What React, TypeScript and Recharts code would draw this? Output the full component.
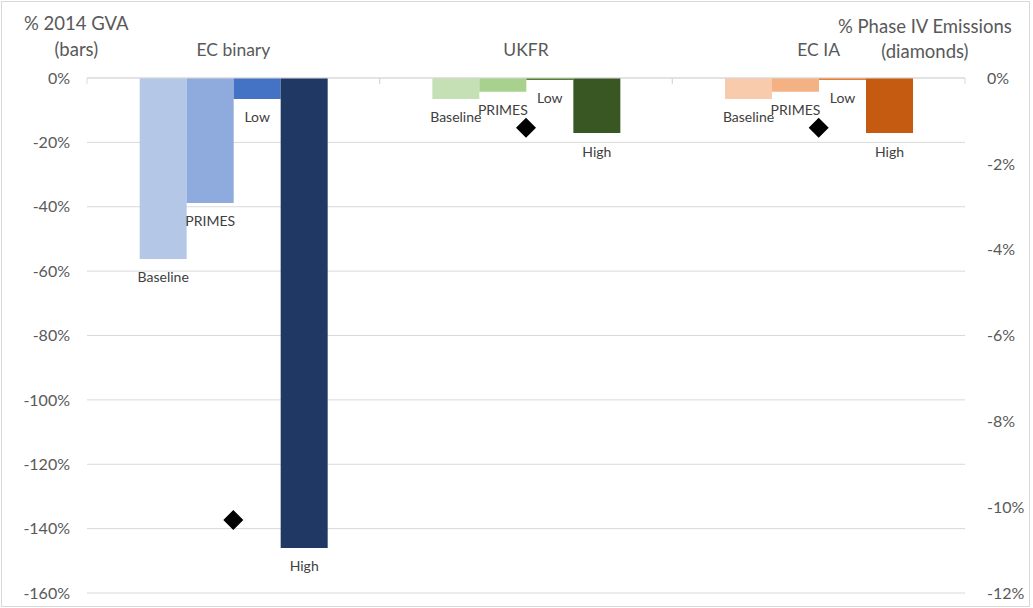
import React from "react";
import {
  ComposedChart,
  Bar,
  Line,
  Cell,
  XAxis,
  YAxis,
  CartesianGrid,
  LabelList,
} from "recharts";

const categories = ["EC binary", "UKFR", "EC IA"];
const baseline = [-56.2, -6.5, -6.5];
const primes = [-38.8, -4.3, -4.3];
const low = [-6.5, -0.6, -0.6];
const high = [-146, -17.1, -17.1];
const emissions = [-10.3, -1.16, -1.16];

const leftTicks = [0, -20, -40, -60, -80, -100, -120, -140, -160];
const rightTicks = [0, -2, -4, -6, -8, -10, -12];

const baselineColors = ["#b4c7e7", "#c5e0b4", "#f8cbad"];
const primesColors = ["#8faadc", "#a9d18e", "#f4b183"];
const lowColors = ["#4472c4", "#548235", "#ed7d31"];
const highColors = ["#203864", "#385723", "#c55a11"];

const data = categories.map((name, i) => ({
  name,
  Baseline: baseline[i],
  PRIMES: primes[i],
  Low: low[i],
  High: high[i],
  emissions: emissions[i],
}));

const FONT = "Lato, 'Liberation Sans', sans-serif";
const GREY = "#595959";

const GroupTick = (props: any) => {
  const { x, y, payload } = props;
  const band = (props.width || 878) / categories.length;
  const axisY = y + 8;
  return (
    <g>
      <text
        x={x}
        y={y - 21}
        textAnchor="middle"
        dominantBaseline="central"
        fill={GREY}
        fontSize={17.5}
        fontFamily={FONT}
      >
        {payload.value}
      </text>
      <line x1={x - band / 2} y1={axisY} x2={x - band / 2} y2={axisY + 6} stroke="#d9d9d9" />
      <line x1={x + band / 2} y1={axisY} x2={x + band / 2} y2={axisY + 6} stroke="#d9d9d9" />
    </g>
  );
};

const BarName = (name: string) => (props: any) => {
  const { x, y, width, height } = props;
  const bottom = Math.max(y, y + height);
  return (
    <text
      x={x + width / 2}
      y={bottom + 18}
      textAnchor="middle"
      dominantBaseline="central"
      fill="#404040"
      fontSize={14}
      fontFamily={FONT}
    >
      {name}
    </text>
  );
};

const Diamond = (props: any) => {
  const { cx, cy } = props;
  const r = 10;
  return (
    <path
      d={`M${cx},${cy - r} L${cx + r},${cy} L${cx},${cy + r} L${cx - r},${cy} Z`}
      fill="#000"
    />
  );
};

const pct = (v: number) => `${v}%`;

export default function App() {
  return (
    <div
      style={{
        position: "fixed",
        top: 0,
        left: 0,
        width: 1033,
        height: 608,
        background: "#fff",
        fontFamily: FONT,
      }}
    >
      <div
        style={{
          position: "absolute",
          left: 1,
          top: 1,
          width: 1027,
          height: 604,
          border: "1px solid #d9d9d9",
        }}
      />
      <div
        style={{
          position: "absolute",
          left: 24,
          top: 10,
          color: GREY,
          fontSize: 18.5,
          lineHeight: "26px",
          textAlign: "center",
        }}
      >
        % 2014 GVA
        <br />
        (bars)
      </div>
      <div
        style={{
          position: "absolute",
          left: 838,
          top: 14,
          color: GREY,
          fontSize: 18.5,
          lineHeight: "25px",
          textAlign: "center",
        }}
      >
        % Phase IV Emissions
        <br />
        (diamonds)
      </div>
      <div style={{ position: "absolute", left: 0, top: 0 }}>
        <ComposedChart
          width={1033}
          height={608}
          data={data}
          margin={{ top: 0, right: 0, bottom: 15, left: 0 }}
          barGap={0}
          barCategoryGap="18%"
        >
          <CartesianGrid vertical={false} stroke="#d9d9d9" yAxisId="left" />
          <XAxis
            dataKey="name"
            orientation="top"
            height={78}
            axisLine={{ stroke: "#d9d9d9" }}
            tickLine={false}
            tick={<GroupTick />}
            interval={0}
          />
          <YAxis
            yAxisId="left"
            width={87}
            domain={[-160, 0]}
            ticks={leftTicks}
            tickFormatter={pct}
            axisLine={false}
            tickLine={false}
            tick={{ fill: GREY, fontSize: 16, fontFamily: FONT }}
            tickMargin={11}
          />
          <YAxis
            yAxisId="right"
            orientation="right"
            width={68}
            domain={[-12, 0]}
            ticks={rightTicks}
            tickFormatter={pct}
            axisLine={false}
            tickLine={false}
            tick={{ fill: GREY, fontSize: 16, fontFamily: FONT }}
            tickMargin={16}
          />
          <Bar yAxisId="left" dataKey="Baseline" isAnimationActive={false}>
            {data.map((d, i) => (
              <Cell key={d.name} fill={baselineColors[i]} />
            ))}
            <LabelList dataKey="Baseline" content={BarName("Baseline")} />
          </Bar>
          <Bar yAxisId="left" dataKey="PRIMES" isAnimationActive={false}>
            {data.map((d, i) => (
              <Cell key={d.name} fill={primesColors[i]} />
            ))}
            <LabelList dataKey="PRIMES" content={BarName("PRIMES")} />
          </Bar>
          <Bar yAxisId="left" dataKey="Low" isAnimationActive={false}>
            {data.map((d, i) => (
              <Cell key={d.name} fill={lowColors[i]} />
            ))}
            <LabelList dataKey="Low" content={BarName("Low")} />
          </Bar>
          <Bar yAxisId="left" dataKey="High" isAnimationActive={false}>
            {data.map((d, i) => (
              <Cell key={d.name} fill={highColors[i]} />
            ))}
            <LabelList dataKey="High" content={BarName("High")} />
          </Bar>
          <Line
            yAxisId="right"
            dataKey="emissions"
            stroke="none"
            dot={<Diamond />}
            activeDot={false}
            isAnimationActive={false}
          />
        </ComposedChart>
      </div>
    </div>
  );
}
